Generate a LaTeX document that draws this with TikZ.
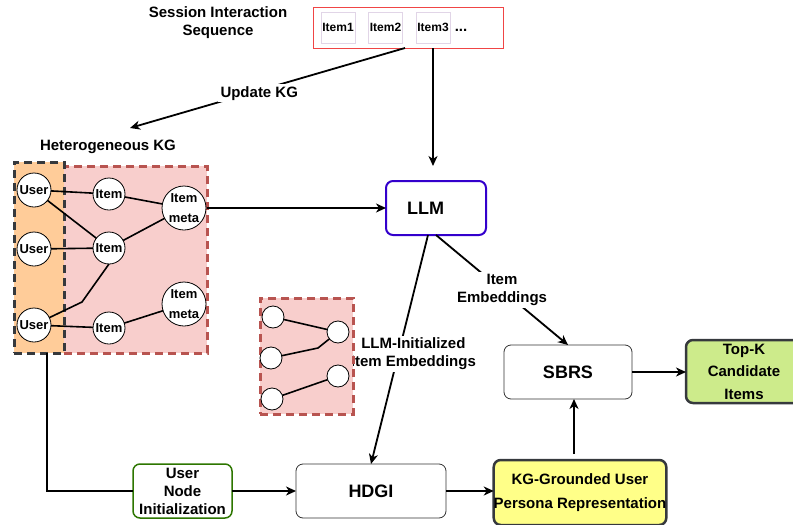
\documentclass[tikz,border=0pt]{standalone}
\usepackage{fontspec}
\setmainfont{Liberation Sans}
\usetikzlibrary{arrows.meta}
\definecolor{pinkfill}{HTML}{F8CECC}
\definecolor{pinkline}{HTML}{B85450}
\definecolor{orangefill}{HTML}{FFCC99}
\definecolor{darkline}{HTML}{36393D}
\definecolor{llmblue}{HTML}{3300CC}
\definecolor{nodegreen}{HTML}{2D7600}
\definecolor{topkgreen}{HTML}{CDEB8B}
\definecolor{kgyellow}{HTML}{FFFF88}
\definecolor{seqred}{HTML}{F04545}
\definecolor{itemlav}{HTML}{E1D5E7}
\tikzset{every node/.style={inner sep=0pt,outer sep=0pt,align=center,font=\bfseries\fontsize{15}{18}\selectfont}}
\tikzset{c/.style={circle,draw,fill=white,line width=0.8pt,font=\bfseries\fontsize{13}{20}\selectfont}}
\tikzset{s/.style={rectangle,draw=itemlav,line width=0.8pt,minimum width=34pt,minimum height=31pt,font=\bfseries\fontsize{12}{14}\selectfont}}
\tikzset{b/.style={rectangle,rounded corners=7pt,draw=black!80,fill=white,line width=0.8pt,minimum height=54pt,font=\bfseries\fontsize{18}{20}\selectfont}}
\tikzset{g/.style={rectangle,draw=pinkline,fill=pinkfill,line width=3pt,dash pattern=on 8pt off 5pt}}
\tikzset{l/.style={fill=white,inner sep=2pt}}
\tikzset{a/.style={line width=1.8pt,-{Stealth[length=10pt,width=9pt,inset=3pt]}}}
\tikzset{e/.style={line width=1.6pt}}

\begin{document}
\begin{tikzpicture}[x=1pt,y=-1pt]
  \useasboundingbox (0,0) rectangle (793,525);
  % session sequence
  \node (seqtxt) at (218,23) {Session Interaction\\Sequence};
  \node[draw=seqred,line width=0.8pt,minimum width=190pt,minimum height=41pt] (seq) at (408,27.5) {};
  \node[s] (it1) at (338,27.5) {Item1};
  \node[s] (it2) at (385.5,27.5) {Item2};
  \node[s] (it3) at (433,27.5) {Item3};
  \node (dots) at (461,30) {...};
  % heterogeneous KG
  \node (kgtitle) at (108,147) {Heterogeneous KG};
  \node[g,minimum width=143pt,minimum height=187pt] (kgitems) at (135.5,259.5) {};
  \node[g,draw=darkline,fill=orangefill,minimum width=50pt,minimum height=191pt] (kgusers) at (39,257.5) {};
  \node[c,minimum size=34pt] (u1) at (34,190) {User};
  \node[c,minimum size=34pt] (u2) at (34,249) {User};
  \node[c,minimum size=34pt] (u3) at (34,325) {User};
  \node[c,minimum size=32pt] (i1) at (109,194) {Item};
  \node[c,minimum size=32pt] (i2) at (109,248) {Item};
  \node[c,minimum size=32pt] (i3) at (109,328) {Item};
  \node[c,minimum size=44pt] (m1) at (184,208) {Item\\meta};
  \node[c,minimum size=44pt] (m2) at (184,304) {Item\\meta};
  \coordinate (kink) at (82,302);
  \draw[e] (u1) -- (i1);
  \draw[e] (u1) -- (i2);
  \draw[e] (u2) -- (i2);
  \draw[e] (u3) -- (kink) -- (i2.south);
  \draw[e] (u3) -- (i3);
  \draw[e] (i1) -- (m1);
  \draw[e] (i2) -- (m1);
  \draw[e] (i3) -- (m2);
  % blocks
  \node[b,draw=llmblue,line width=2pt,minimum width=100pt,text width=58pt,inner xsep=21pt,align=left] (llm) at (436,208) {LLM};
  \node[b,minimum width=128pt] (sbrs) at (568,372) {SBRS};
  \node[b,draw=darkline,fill=topkgreen,line width=2.5pt,minimum width=116pt,minimum height=63pt,font=\bfseries\fontsize{15}{22.5}\selectfont] (topk) at (744,371.5) {Top-K\\Candidate\\Items};
  \node[b,minimum width=150pt] (hdgi) at (371,491) {HDGI};
  \node[b,draw=nodegreen,line width=1.5pt,minimum width=99pt,font=\bfseries\fontsize{15}{18}\selectfont] (uinit) at (182.5,491) {User\\Node\\Initialization};
  \node[b,draw=darkline,fill=kgyellow,line width=2.5pt,minimum width=172pt,minimum height=65pt,font=\bfseries\fontsize{15}{24}\selectfont] (persona) at (580,492.5) {KG-Grounded User\\Persona Representation};
  % connectors
  \coordinate (llmin) at (433,166);
  \coordinate (kgin) at (130,128);
  \draw[a] (seq.south -| it3) -- (llmin);
  \draw[a] ([xshift=-3pt]seq.south) -- node[l,pos=0.53,yshift=-3pt] {Update KG} (kgin);
  \draw[a] (kgitems.east |- llm.west) -- (llm.west);
  \draw[a] (llm.south) -- node[l] {Item\\Embeddings} (sbrs.north);
  \draw[a] ([xshift=-8pt]llm.south) -- node[l,pos=0.52,xshift=15pt] {LLM-Initialized\\Item Embeddings} (hdgi.north);
  \draw[a] (sbrs.east) -- (sbrs.east -| topk.west);
  \draw[line width=1.8pt] ([xshift=8pt]kgusers.south) |- (uinit.west);
  \draw[a] (uinit.east) -- (hdgi.west);
  \draw[a] (hdgi.east) -- (hdgi.east -| persona.west);
  \draw[a,shorten <=6pt] ([xshift=-6pt]persona.north) -- ([xshift=-6pt]persona.north |- sbrs.south);
  % small subgraph
  \node[g,minimum width=93pt,minimum height=116pt] (sub) at (306.5,356) {};
  \node[c,minimum size=22pt] (s1) at (273,317) {};
  \node[c,minimum size=22pt] (s2) at (338,332) {};
  \node[c,minimum size=22pt] (s3) at (271,358) {};
  \node[c,minimum size=22pt] (s4) at (338,376) {};
  \node[c,minimum size=22pt] (s5) at (272,399) {};
  \coordinate (skink) at (318,348);
  \draw[e] (s1) -- (s2);
  \draw[e] (s3) -- (skink) -- (s2);
  \draw[e] (s5) -- (s4);
\end{tikzpicture}
\end{document}
